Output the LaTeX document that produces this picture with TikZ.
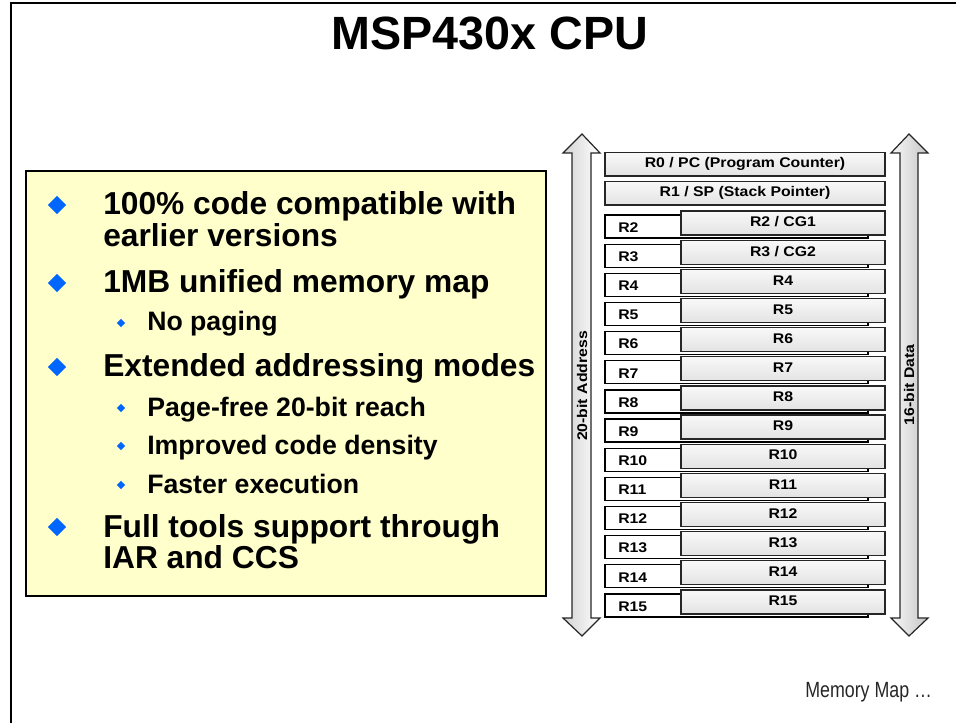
\documentclass[tikz,border=0pt]{standalone}
\usepackage{fontspec}
\setmainfont{Liberation Sans}
\newfontfamily\regfont[FakeStretch=1.13]{Liberation Sans}
\newfontfamily\narrowfont[FakeStretch=0.81]{Liberation Sans}
\usetikzlibrary{shapes.geometric,fit}
\definecolor{boxyellow}{HTML}{FFFFCC}
\definecolor{bulletblue}{HTML}{0066FF}
\begin{document}
\begin{tikzpicture}[x=0.75pt,y=-0.75pt,
  titletext/.style={font=\fontsize{35}{40}\selectfont\bfseries},
  maintext/.style={font=\fontsize{23.8}{28}\selectfont\bfseries, anchor=base west, inner sep=0},
  subtext/.style={font=\fontsize{20}{24}\selectfont\bfseries, anchor=base west, inner sep=0},
  bigbullet/.style={diamond, fill=bulletblue, minimum size=14pt, inner sep=0},
  smallbullet/.style={diamond, fill=bulletblue, minimum size=6.5pt, inner sep=0},
  panelbox/.style={draw=black, line width=1.8pt, fill=boxyellow, inner sep=0},
  whitereg/.style={draw=black, line width=0.9pt, fill=white, inner sep=0},
  grayreg/.style={draw=black!85, line width=0.9pt, top color=gray!5, bottom color=gray!22, inner sep=0},
  regtext/.style={font=\regfont\fontsize{10.5}{12}\selectfont\bfseries, inner sep=0},
  sidetext/.style={font=\regfont\fontsize{10.5}{12}\selectfont\bfseries, inner sep=0, rotate=90},
  busarrow/.style={draw=black!85, line width=0.9pt}
]
\useasboundingbox (0,0) rectangle (956,723);
% slide frame
\draw[line width=2pt] (11,730) -- (11,3) -- (965,3);
% title
\node[titletext] (title) at (490,33) {MSP430x CPU};
% left panel
\node[panelbox, fit={(26,171) (546,596)}] (panel) {};
\node[bigbullet] (b1) at (57,205) {};
\node[maintext] (t1a) at (103,215) {100\% code compatible with};
\node[maintext] (t1b) at (103,247) {earlier versions};
\node[bigbullet] (b2) at (57,283) {};
\node[maintext] (t2) at (103,293) {1MB unified memory map};
\node[smallbullet] (s21) at (121,323) {};
\node[subtext] (t21) at (147,331) {No paging};
\node[bigbullet] (b3) at (57,367) {};
\node[maintext] (t3) at (103,377) {Extended addressing modes};
\node[smallbullet] (s31) at (121,408) {};
\node[subtext] (t31) at (147,416) {Page-free 20-bit reach};
\node[smallbullet] (s32) at (121,446) {};
\node[subtext] (t32) at (147,454) {Improved code density};
\node[smallbullet] (s33) at (121,485) {};
\node[subtext] (t33) at (147,493) {Faster execution};
\node[bigbullet] (b4) at (57,527) {};
\node[maintext] (t4a) at (103,537) {Full tools support through};
\node[maintext] (t4b) at (103,568) {IAR and CCS};
% bus arrows
\draw[busarrow, left color=gray!35, right color=white]
  (582,134) -- (600,153) -- (591,153) -- (591,618) -- (600,618) -- (582,636)
  -- (563,618) -- (572,618) -- (572,153) -- (563,153) -- cycle;
\draw[busarrow, left color=gray!6, right color=gray!45]
  (909,134) -- (928,153) -- (918,153) -- (918,618) -- (928,618) -- (909,636)
  -- (891,618) -- (900,618) -- (900,153) -- (891,153) -- cycle;
\node[sidetext] (addr) at (582,386) {20-bit Address};
\node[sidetext] (data) at (909,385) {16-bit Data};
% registers R0, R1
\node[grayreg, fit={(605,152.7) (885,176)}] (r0) {};
\node[regtext] (r0t) at ([yshift=0.5pt]r0.center) {R0 / PC (Program Counter)};
\node[grayreg, fit={(605,181.5) (885,205)}] (r1) {};
\node[regtext] (r1t) at ([yshift=0.5pt]r1.center) {R1 / SP (Stack Pointer)};
% registers R2..R15
\foreach \i in {2,...,15} {
  \pgfmathsetmacro{\t}{215+(\i-2)*29.15}
  \node[whitereg, fit={(605,\t) (868,\t+23)}] (w\i) {};
  \node[regtext, anchor=west] (wl\i) at (618,\t+12.5) {R\i};
  \node[grayreg, fit={(681,\t-4) (885,\t+20)}] (g\i) {};
  \node[regtext] (gl\i) at ([yshift=0.8pt]g\i.center)
    {\ifnum\i=2 R2 / CG1\else\ifnum\i=3 R3 / CG2\else R\i\fi\fi};
}
% footer
\node[font=\narrowfont\fontsize{16.5}{18}\selectfont, text=black!85, anchor=west, inner sep=0] (footer) at (805,692) {Memory Map …};
\end{tikzpicture}
\end{document}
